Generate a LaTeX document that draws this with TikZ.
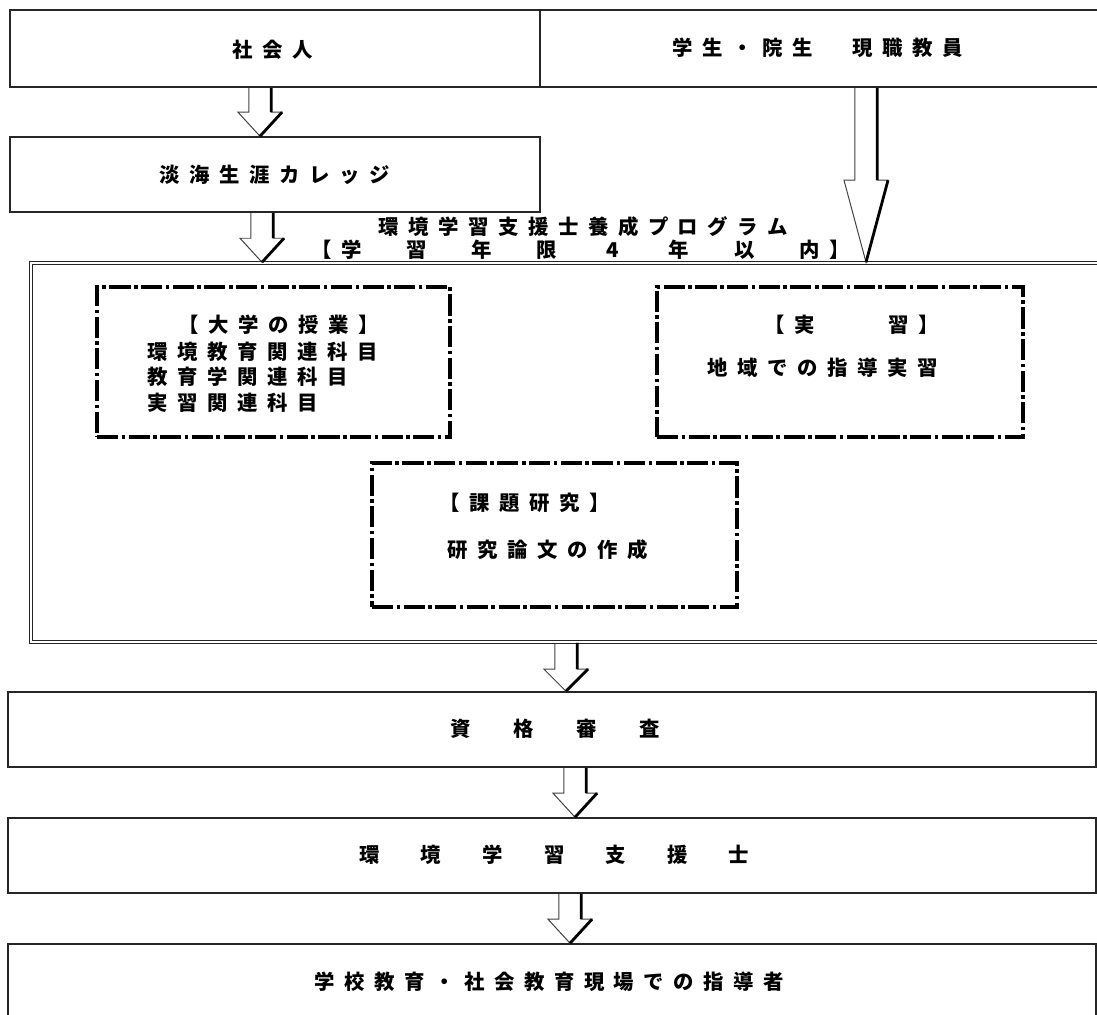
\documentclass[tikz,border=0pt]{standalone}
\usepackage{fontspec}
\newfontfamily\jpfont{Noto Sans CJK JP}[LetterSpace=47]
\usetikzlibrary{calc}

\tikzset{
  box/.style={draw=black!85, line width=1.1pt, inner sep=0pt},
  framebox/.style={draw=black!85, double, double distance=1.3pt, line width=1pt, inner sep=0pt},
  dashbox/.style={draw=black, line width=2.3pt, inner sep=0pt,
    dash pattern=on 15pt off 2.5pt on 2.5pt off 2.5pt},
  txt/.style={inner sep=0pt, anchor=west,
    font=\jpfont\bfseries\fontsize{14.5pt}{18pt}\selectfont},
  arrowbody/.style={draw=black!75, line width=0.7pt},
  arrowedge/.style={draw=black, line width=2pt},
}

% hollow block arrow: [head length]{column}{from}{to}
\newcommand{\fatarrow}[4][0.6cm]{%
  \coordinate (ftop) at (#2 |- #3.south);
  \coordinate (ftip) at (#2 |- #4.north);
  \draw[arrowbody] ([xshift=-2.8mm]ftop) -- ([xshift=-2.8mm,yshift=#1]ftip)
    -- ([xshift=-5.5mm,yshift=#1]ftip) -- (ftip) -- ([xshift=5.5mm,yshift=#1]ftip)
    -- ([xshift=2.8mm,yshift=#1]ftip) -- ([xshift=2.8mm]ftop);
  \draw[arrowedge] ([xshift=2.8mm]ftop) -- ([xshift=2.8mm,yshift=#1]ftip)
    ([xshift=5.5mm,yshift=#1]ftip) -- (ftip);
}

\begin{document}
\begin{tikzpicture}[x=0.025cm, y=-0.025cm]
  \useasboundingbox (0,0) rectangle (1097,1014);

  % entry boxes
  \node[box, minimum width=13.25cm, minimum height=1.925cm] (shakai) at (275,48.5) {};
  \node[box, minimum width=14.5cm, minimum height=1.925cm] (gakusei) at (830,48.5) {};
  \node[txt] (shakaitxt) at (232,50) {社会人};
  \node[txt] (gakuseitxt) at (672,48) {学生・院生　現職教員};

  \node[box, minimum width=13.25cm, minimum height=1.875cm] (college) at (275,174.5) {};
  \node[txt] (collegetxt) at (159,175) {淡海生涯カレッジ};

  % programme
  \node[txt] (progtitle) at (378,227) {環境学習支援士養成プログラム};
  \node[txt] (progyears) at (311,250) {【学\hspace{1.12cm}習\hspace{1.12cm}年\hspace{1.12cm}限\hspace{1.24cm}4\hspace{1.24cm}年\hspace{1.12cm}以\hspace{1.12cm}内】};
  \node[framebox, minimum width=27.225cm, minimum height=9.475cm] (frame) at (575.5,452.5) {};

  \node[dashbox, minimum width=8.825cm, minimum height=3.75cm] (classbox) at (273.5,362) {};
  \node[txt] (classhead) at (178,325) {【大学の授業】};
  \node[txt, align=left] (classlist) at (147,377) {環境教育関連科目\\教育学関連科目\\実習関連科目};

  \node[dashbox, minimum width=9.15cm, minimum height=3.75cm] (practicebox) at (840,362) {};
  \node[txt] (practicehead) at (764,325) {【実\hspace{1.84cm}習】};
  \node[txt] (practicetxt) at (707,368) {地域での指導実習};

  \node[dashbox, minimum width=9.125cm, minimum height=3.6cm] (researchbox) at (554.5,535) {};
  \node[txt] (researchhead) at (439,503) {【課題研究】};
  \node[txt] (researchtxt) at (447,550) {研究論文の作成};

  % after the programme
  \node[box, minimum width=27.2cm, minimum height=1.875cm] (shikaku) at (552,729.5) {};
  \node[txt] (shikakutxt) at (450,729) {資\hspace{1.065cm}格\hspace{1.065cm}審\hspace{1.065cm}査};
  \node[box, minimum width=27.2cm, minimum height=1.875cm] (shien) at (552,855.5) {};
  \node[txt] (shientxt) at (359,855) {環\hspace{1.03cm}境\hspace{1.03cm}学\hspace{1.03cm}習\hspace{1.03cm}支\hspace{1.03cm}援\hspace{1.03cm}士};
  \node[box, minimum width=27.2cm, minimum height=2.4cm] (shidou) at (552,992) {};
  \node[txt] (shidoutxt) at (314,982) {学校教育・社会教育現場での指導者};

  % arrows
  \coordinate (c1) at (260,0);
  \coordinate (c2) at (262,0);
  \coordinate (c3) at (866,0);
  \coordinate (c4) at (566,0);
  \coordinate (c5) at (575,0);
  \coordinate (c6) at (570,0);
  \fatarrow{c1}{shakai}{college}
  \fatarrow{c2}{college}{frame}
  \fatarrow[2.05cm]{c3}{gakusei}{frame}
  \fatarrow[0.55cm]{c4}{frame}{shikaku}
  \fatarrow{c5}{shikaku}{shien}
  \fatarrow{c6}{shien}{shidou}
\end{tikzpicture}
\end{document}
